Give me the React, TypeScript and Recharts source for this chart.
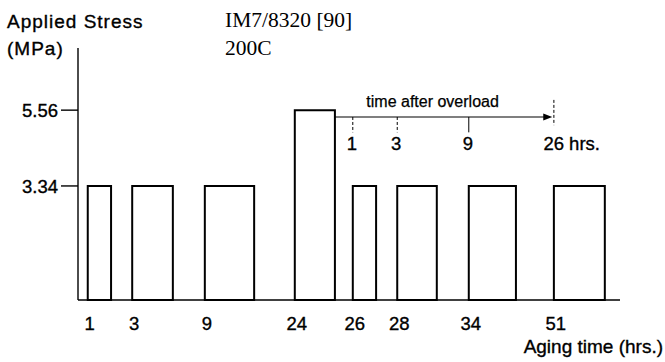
import React from "react";
import { ComposedChart, XAxis, YAxis, ReferenceArea, ReferenceLine, ReferenceDot } from "recharts";

// Aging history of the specimen: aging time label, applied stress, and the
// bar's slot on the schematic time axis (axis units, 0..100).
const agingHours = ["1", "3", "9", "24", "26", "28", "34", "51"];
const appliedStress = [3.34, 3.34, 3.34, 5.56, 3.34, 3.34, 3.34, 3.34];
const slotStart = [1.8, 10, 23.4, 40, 50.7, 58.9, 72.1, 87.8];
const slotEnd = [6.1, 17.5, 32.5, 47.4, 55, 66.2, 80.8, 97.2];
const stressTicks = [3.34, 5.56];

// Hours elapsed after the overload, marked above the later bars.
const overloadHours = [1, 3, 9, 26];
const overloadBarIndex = [4, 5, 6, 7];
const overloadBar = 3;

const SANS = "'Liberation Sans', Arial, Helvetica, sans-serif";
const SERIF = "'Liberation Serif', 'Times New Roman', serif";

const W = 665;
const H = 362;

// Annotation levels in stress units
const ARROW_LEVEL = 5.36;
const MARK_DROP = 0.45;
const MARK_TEXT_LEVEL = 4.39;

// Slight outline gives the sans labels a heavier, printed look
const INK = { fill: "#000", stroke: "#000", strokeWidth: 0.35 };

const chartData = agingHours.map((h, i) => ({ x: slotStart[i], stress: appliedStress[i], label: h }));

const labelByStart: Record<string, string> = {};
slotStart.forEach((s, i) => {
  labelByStart[String(s)] = agingHours[i];
});

const AgingTick = (props: any) => {
  const { x, y, payload } = props;
  return (
    <text x={x + 2} y={y + 28} textAnchor="middle" fontFamily={SANS} fontSize={18.5} {...INK}>
      {labelByStart[String(payload.value)]}
    </text>
  );
};

const ArrowShape = (props: any) => {
  const { x1, y1, x2, y2 } = props;
  const mid = (x1 + x2) / 2;
  return (
    <g>
      <line x1={x1} y1={y1} x2={x2 - 6} y2={y2} stroke="#000" strokeWidth={1.2} />
      <polygon points={`${x2},${y2} ${x2 - 9},${y2 - 3.5} ${x2 - 9},${y2 + 3.5}`} fill="#000" />
      <text x={mid - 11} y={y1 - 10} textAnchor="middle" fontFamily={SANS} fontSize={16} {...INK} strokeWidth={0.25}>
        time after overload
      </text>
    </g>
  );
};

export default function App() {
  return (
    <div style={{ position: "absolute", left: 0, top: 0, width: W, height: H, background: "#fff" }}>
      <ComposedChart
        width={W}
        height={H}
        data={chartData}
        margin={{ top: 48, right: 45, left: 0, bottom: 0 }}
      >
        <XAxis
          dataKey="x"
          type="number"
          domain={[0, 100]}
          ticks={slotStart}
          interval={0}
          tickLine={false}
          tickSize={0}
          height={62}
          axisLine={{ stroke: "#000", strokeWidth: 1.4 }}
          tick={<AgingTick />}
          allowDataOverflow
        />
        <YAxis
          type="number"
          domain={[0, 7.38]}
          ticks={stressTicks}
          interval={0}
          width={78}
          tickSize={17}
          tickMargin={3}
          axisLine={{ stroke: "#000", strokeWidth: 1.4 }}
          tickLine={{ stroke: "#000", strokeWidth: 1.4 }}
          tick={{ fontFamily: SANS, fontSize: 18.5, ...INK }}
          tickFormatter={(v: number) => v.toFixed(2)}
          allowDataOverflow
        />

        {agingHours.map((h, i) => (
          <ReferenceArea
            key={`bar-${h}`}
            x1={slotStart[i]}
            x2={slotEnd[i]}
            y1={0}
            y2={appliedStress[i]}
            fill="#fff"
            fillOpacity={1}
            stroke="#000"
            strokeWidth={2}
          />
        ))}

        <ReferenceLine
          segment={[
            { x: slotEnd[overloadBar], y: ARROW_LEVEL },
            { x: slotStart[overloadBarIndex[overloadBarIndex.length - 1]] - 0.3, y: ARROW_LEVEL },
          ]}
          shape={<ArrowShape />}
        />

        {overloadHours.map((h, k) => {
          const xs = slotStart[overloadBarIndex[k]];
          const last = k === overloadHours.length - 1;
          return (
            <ReferenceLine
              key={`mark-${h}`}
              segment={[
                { x: xs, y: last ? ARROW_LEVEL + 0.5 : ARROW_LEVEL },
                { x: xs, y: last ? ARROW_LEVEL - 0.24 : ARROW_LEVEL - MARK_DROP },
              ]}
              stroke="#000"
              strokeWidth={1}
              strokeDasharray={h === 9 ? undefined : "3 2"}
            />
          );
        })}

        {overloadHours.map((h, k) => {
          const xs = slotStart[overloadBarIndex[k]];
          const last = k === overloadHours.length - 1;
          return (
            <ReferenceDot
              key={`mark-text-${h}`}
              x={xs}
              y={MARK_TEXT_LEVEL}
              r={0}
              shape={(p: any) => (
                <text
                  x={last ? p.cx - 10.5 : p.cx - 1}
                  y={p.cy}
                  textAnchor={last ? "start" : "middle"}
                  fontFamily={SANS}
                  fontSize={18.5}
                  {...INK}
                >
                  {last ? `${h} hrs.` : `${h}`}
                </text>
              )}
            />
          );
        })}

        <text x={7} y={28} fontFamily={SANS} fontSize={19} letterSpacing={1} {...INK}>
          Applied Stress
        </text>
        <text x={7} y={55} fontFamily={SANS} fontSize={19} letterSpacing={1} {...INK}>
          (MPa)
        </text>
        <text x={225} y={27} fontFamily={SERIF} fontSize={21.5} fill="#000">
          IM7/8320 [90]
        </text>
        <text x={225} y={55} fontFamily={SERIF} fontSize={21.5} fill="#000">
          200C
        </text>
        <text x={663} y={353} textAnchor="end" fontFamily={SANS} fontSize={19} {...INK}>
          Aging time (hrs.)
        </text>
      </ComposedChart>
    </div>
  );
}
